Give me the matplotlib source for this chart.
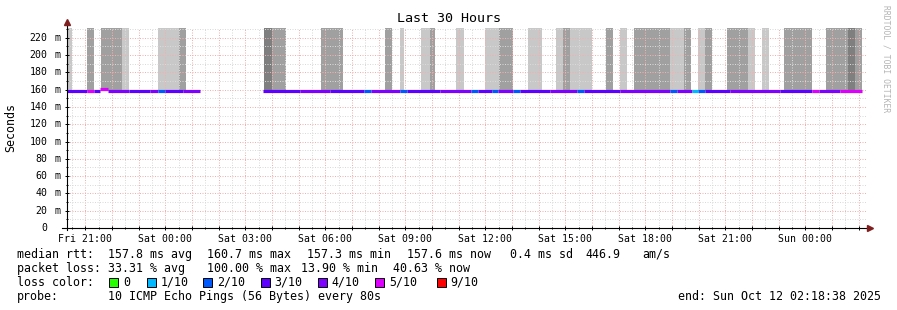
import matplotlib
matplotlib.use("Agg")
import matplotlib.pyplot as plt
import matplotlib.dates as mdates
from matplotlib.patches import Rectangle
from matplotlib.transforms import blended_transform_factory
import numpy as np
import pandas as pd

# time window of the graph
t_start = pd.Timestamp("2025-10-10 20:18:38")
t_end = pd.Timestamp("2025-10-12 02:18:38")

# smoke: ping spread above the median, clipped at the top of the graph
smoke_start = ["2025-10-10 20:14", "2025-10-10 21:03", "2025-10-10 21:35", "2025-10-10 22:22",
               "2025-10-10 23:43", "2025-10-11 00:30", "2025-10-11 03:42", "2025-10-11 03:59",
               "2025-10-11 05:50", "2025-10-11 08:14", "2025-10-11 08:48", "2025-10-11 09:35",
               "2025-10-11 09:55", "2025-10-11 10:54", "2025-10-11 11:59", "2025-10-11 12:31",
               "2025-10-11 13:36", "2025-10-11 14:39", "2025-10-11 14:55", "2025-10-11 15:10",
               "2025-10-11 16:31", "2025-10-11 17:03", "2025-10-11 17:34", "2025-10-11 18:55",
               "2025-10-11 19:26", "2025-10-11 19:58", "2025-10-11 20:14", "2025-10-11 21:03",
               "2025-10-11 21:50", "2025-10-11 22:22", "2025-10-11 23:11", "2025-10-12 00:46",
               "2025-10-12 01:36", "2025-10-12 01:51"]
smoke_end = ["2025-10-10 20:30", "2025-10-10 21:19", "2025-10-10 22:22", "2025-10-10 22:38",
             "2025-10-11 00:30", "2025-10-11 00:46", "2025-10-11 03:59", "2025-10-11 04:31",
             "2025-10-11 06:40", "2025-10-11 08:30", "2025-10-11 08:57", "2025-10-11 09:55",
             "2025-10-11 10:07", "2025-10-11 11:12", "2025-10-11 12:31", "2025-10-11 13:02",
             "2025-10-11 14:07", "2025-10-11 14:55", "2025-10-11 15:10", "2025-10-11 16:00",
             "2025-10-11 16:47", "2025-10-11 17:18", "2025-10-11 18:55", "2025-10-11 19:26",
             "2025-10-11 19:42", "2025-10-11 20:14", "2025-10-11 20:30", "2025-10-11 21:50",
             "2025-10-11 22:06", "2025-10-11 22:38", "2025-10-12 00:14", "2025-10-12 01:36",
             "2025-10-12 01:51", "2025-10-12 02:07"]
smoke_shade = ["L", "M", "M", "L", "L", "M", "D", "M", "M", "M", "L", "L", "M", "L", "L", "M",
               "L", "L", "M", "L", "M", "L", "M", "L", "M", "L", "M", "M", "L", "L", "M", "M",
               "D", "M"]
smoke_low = 0.158   # s
smoke_high = 0.300  # s, above the visible range

# median rtt as steps: start time, value (ms), lost pings of 10
median_start = ["2025-10-10 20:18", "2025-10-10 21:04", "2025-10-10 21:19", "2025-10-10 21:33",
                "2025-10-10 21:51", "2025-10-10 22:38", "2025-10-10 23:25", "2025-10-10 23:43",
                "2025-10-10 23:59", "2025-10-11 00:40", "2025-10-11 01:18",
                "2025-10-11 03:40", "2025-10-11 05:03", "2025-10-11 06:10", "2025-10-11 07:27",
                "2025-10-11 07:43", "2025-10-11 08:48", "2025-10-11 09:04", "2025-10-11 10:18",
                "2025-10-11 11:28", "2025-10-11 11:43", "2025-10-11 12:15", "2025-10-11 12:28",
                "2025-10-11 13:02", "2025-10-11 13:18", "2025-10-11 14:25", "2025-10-11 15:26",
                "2025-10-11 15:42", "2025-10-11 17:03", "2025-10-11 18:55", "2025-10-11 19:11",
                "2025-10-11 19:45", "2025-10-11 19:58", "2025-10-11 20:14", "2025-10-11 21:10",
                "2025-10-11 23:03", "2025-10-12 00:15", "2025-10-12 00:31", "2025-10-12 01:18",
                "2025-10-12 02:07"]
median_ms = [158.2, 158.0, 158.2, 160.7, 158.2, 158.0, 158.2, 158.0, 158.2, 158.2, np.nan,
             158.0, 158.2, 158.0, 158.0, 158.2, 157.9, 158.2, 158.2, 158.0, 158.2, 158.0,
             158.2, 157.9, 158.2, 158.2, 158.0, 158.2, 158.1, 157.9, 158.2, 157.9, 157.9,
             158.2, 158.2, 158.0, 158.4, 158.2, 157.9, np.nan]
median_loss = [3, 5, 3, 5, 4, 3, 4, 2, 3, 4, 0,
               3, 4, 3, 2, 4, 2, 3, 4, 2, 3, 2, 4, 2, 3, 4, 2, 3, 4, 2, 4, 1, 2, 3, 4, 3,
               5, 4, 5, 0]

loss_levels = [0, 1, 2, 3, 4, 5, 9]
loss_colors = ["#26ff00", "#00b8ff", "#0059ff", "#5e00ff", "#7e00ff", "#dd00ff", "#ff0000"]
shade_colors = {"L": "#c8c8c8", "M": "#a0a0a0", "D": "#7f7f7f"}

y_ticks_ms = [0, 20, 40, 60, 80, 100, 120, 140, 160, 180, 200, 220]

W, H = 897, 310
mono = "DejaVu Sans Mono"


def fx(px):
    return px / W


def fy(py):
    return 1 - py / H


fig = plt.figure(figsize=(W / 100, H / 100), dpi=100)
fig.patch.set_facecolor("white")
ax = fig.add_axes([fx(67), fy(228), 800 / W, 200 / H])

# smoke bars
s0 = mdates.date2num(pd.to_datetime(smoke_start))
s1 = mdates.date2num(pd.to_datetime(smoke_end))
ax.bar(s0, smoke_high - smoke_low, width=s1 - s0, bottom=smoke_low, align="edge",
       color=[shade_colors[s] for s in smoke_shade], linewidth=0, zorder=1)

# median line coloured by loss
m_t = mdates.date2num(pd.to_datetime(median_start))
cmap = dict(zip(loss_levels, loss_colors))
for i in range(len(m_t) - 1):
    if np.isnan(median_ms[i]):
        continue
    ax.plot([m_t[i], m_t[i + 1]], [median_ms[i] / 1000] * 2, color=cmap[median_loss[i]],
            lw=2.3, solid_capstyle="butt", zorder=3)

ax.set_xlim(mdates.date2num(t_start), mdates.date2num(t_end))
ax.set_ylim(0, 0.2313)

# grid
ax.xaxis.set_major_locator(mdates.HourLocator())
ax.xaxis.set_minor_locator(mdates.MinuteLocator(byminute=[30]))


def fmt_time(x, pos=None):
    d = mdates.num2date(x)
    return d.strftime("%a %H:%M") if d.hour % 3 == 0 else ""


ax.xaxis.set_major_formatter(plt.FuncFormatter(fmt_time))
ax.yaxis.set_major_locator(plt.MultipleLocator(0.02))
ax.yaxis.set_minor_locator(plt.MultipleLocator(0.01))
ax.set_yticklabels([])
ax.grid(which="major", color="#f4b0b0", linestyle=(0, (1, 1.5)), lw=0.72, zorder=2)
ax.grid(which="minor", color="#dadada", linestyle=(0, (1, 1.5)), lw=0.72, zorder=2)
ax.set_axisbelow(False)

for sp in ax.spines.values():
    sp.set_visible(False)
ax.tick_params(which="both", direction="inout", color="black", width=0.7)
ax.tick_params(which="major", length=3)
ax.tick_params(which="minor", length=2)
ax.tick_params(axis="x", labelsize=7.1, pad=2.5)
for lbl in ax.get_xticklabels():
    lbl.set_family(mono)

# axis lines with arrows
ax.plot([0, 0], [-0.012, 1.03], color="black", lw=0.8, transform=ax.transAxes,
        clip_on=False, zorder=5)
ax.plot([-0.006, 1.004], [0, 0], color="black", lw=0.8, transform=ax.transAxes,
        clip_on=False, zorder=5)
ax.plot([0], [1.03], marker="^", ms=4, color="#7f1f1f", transform=ax.transAxes,
        clip_on=False, zorder=6)
ax.plot([1.004], [0], marker=">", ms=4, color="#7f1f1f", transform=ax.transAxes,
        clip_on=False, zorder=6)

# y tick labels (number right aligned, unit after)
ytr = blended_transform_factory(fig.transFigure, ax.transData)
for v in y_ticks_ms:
    fig.text(fx(47.5), v / 1000, str(v), transform=ytr, ha="right", va="center",
             family=mono, fontsize=7.1)
    if v:
        fig.text(fx(54), v / 1000, "m", transform=ytr, ha="left", va="center",
                 family=mono, fontsize=7.1)

fig.text(fx(448.5), fy(19), "Last 30 Hours", ha="center", va="center", family=mono,
         fontsize=9.6)
fig.text(fx(11), fy(127), "Seconds", ha="center", va="center", rotation=90,
         family=mono, fontsize=8.4)
fig.text(fx(886), fy(59), "RRDTOOL / TOBI OETIKER", ha="center", va="center",
         rotation=270, family=mono, fontsize=5.8, color="#b4b4b4")

# legend block
fs = 8.4
rows = [
    (254.3, [(16.7, "median rtt:"), (107.7, "157.8 ms avg"), (207.3, "160.7 ms max"),
             (306.7, "157.3 ms min"), (406.7, "157.6 ms now"), (510, "0.4 ms sd"),
             (585, "446.9"), (642, "am/s")]),
    (268.3, [(16.7, "packet loss:"), (107.7, "33.31 % avg"), (207.3, "100.00 % max"),
             (301, "13.90 % min"), (392.7, "40.63 % now")]),
    (282.3, [(16.7, "loss color:")]),
    (296.7, [(16.7, "probe:"), (107.7, "10 ICMP Echo Pings (56 Bytes) every 80s")]),
]
for y, items in rows:
    for x, s in items:
        fig.text(fx(x), fy(y), s, ha="left", va="center", family=mono, fontsize=fs)

box_x = [109, 146.7, 203.3, 260.7, 317.7, 375, 436.7]
for bx, lvl, col in zip(box_x, loss_levels, loss_colors):
    fig.add_artist(Rectangle((fx(bx), fy(286.8)), 9 / W, 9 / H, transform=fig.transFigure,
                             facecolor=col, edgecolor="black", lw=0.7))
    lab = "0" if lvl == 0 else f"{lvl}/10"
    fig.text(fx(bx + 14), fy(282.3), lab, ha="left", va="center", family=mono, fontsize=fs)

fig.text(fx(881), fy(296.7), "end: Sun Oct 12 02:18:38 2025", ha="right", va="center",
         family=mono, fontsize=fs)

fig.savefig("out.png", dpi=100, facecolor="white")
